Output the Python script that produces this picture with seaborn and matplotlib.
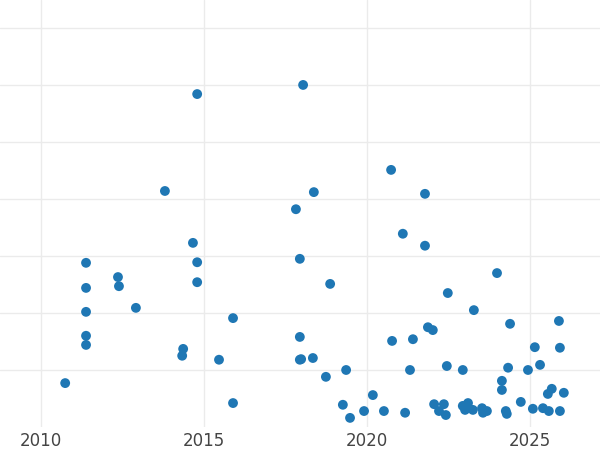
import numpy as np
import matplotlib.pyplot as plt
import seaborn as sns
import pandas as pd

px = [65,86,86,86,86,86,118,119,136,165,182,183,193,197,197,197,219,233,233,296,300,300,300,301,303,313,314,326,330,343,346,350,364,373,384,391,392,403,405,410,413,425,425,428,433,434,439,444,446,447,448,463,463,465,468,473,474,482,483,487,497,502,502,506,507,508,510,521,528,533,535,540,543,548,549,552,559,560,560,564]
py = [383,263,288,312,336,345,277,286,308,191,356,349,243,94,262,282,360,318,403,209,259,337,360,359,85,358,192,377,284,405,370,418,411,395,411,170,341,234,413,370,339,194,246,327,330,404,411,404,415,366,293,406,370,410,403,410,310,408,413,411,273,381,390,411,414,368,324,402,370,409,347,365,408,394,411,389,321,348,411,393]
year = [round(2010 + (p - 41) / 32.6, 2) for p in px]
value = [round((427 - p) / 57, 2) for p in py]
data = pd.DataFrame({'year': year, 'value': value})

sns.set_style('white')
fig = plt.figure(figsize=(6, 4.5), dpi=100)
ax = fig.add_axes([0, 23 / 450, 1, 427 / 450])
sns.scatterplot(x='year', y='value', data=data, color='#1f77b4', s=50,
                edgecolor='none', ax=ax, zorder=3)
ax.set_xlim(2008.74, 2027.15)
ax.set_ylim(0, 7.49)
ax.set_xticks([2010, 2015, 2020, 2025])
ax.set_yticks(range(1, 8))
ax.set_yticklabels([])
ax.grid(True, color='#ebebeb', linewidth=1)
ax.tick_params(axis='both', length=0, labelsize=12, colors='#444444')
ax.set_xlabel('')
ax.set_ylabel('')
for s in ax.spines.values():
    s.set_visible(False)
fig.savefig('out.png')
